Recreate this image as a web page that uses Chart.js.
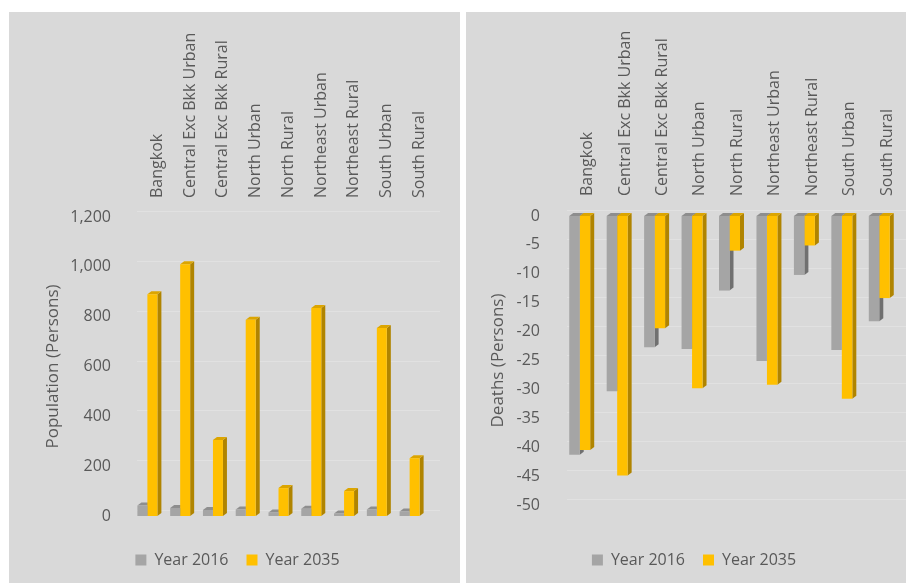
<!DOCTYPE html>
<html>
<head>
<meta charset="utf-8">
<script src="https://cdn.jsdelivr.net/npm/chart.js@4/dist/chart.umd.min.js"></script>
<style>
  html, body { margin: 0; padding: 0; background: #ffffff; width: 906px; height: 583px; overflow: hidden; }
  .panel { position: absolute; background: #d9d9d9; }
  #p1 { left: 9px; top: 12px; width: 451px; height: 571px; }
  #p2 { left: 466px; top: 12px; width: 440px; height: 571px; }
</style>
</head>
<body>
<div class="panel" id="p1"><canvas id="c1" width="451" height="571"></canvas></div>
<div class="panel" id="p2"><canvas id="c2" width="440" height="571"></canvas></div>
<script>
// ---- data ----
const categories = ['Bangkok', 'Central Exc Bkk Urban', 'Central Exc Bkk Rural', 'North Urban', 'North Rural', 'Northeast Urban', 'Northeast Rural', 'South Urban', 'South Rural'];
const seriesNames = ['Year 2016', 'Year 2035'];
const pop2016 = [42, 32, 24, 26, 14, 29, 10, 26, 18];
const pop2035 = [890, 1010, 305, 788, 112, 835, 100, 755, 232];
const deaths2016 = [-41.3, -30.3, -22.7, -23.0, -12.9, -25.1, -10.2, -23.2, -18.2];
const deaths2035 = [-40.5, -44.9, -19.4, -29.8, -6.0, -29.2, -5.1, -31.6, -14.2];
const popTicks = ['0', '200', '400', '600', '800', '1,000', '1,200'];
const deathTicks = ['-50', '-45', '-40', '-35', '-30', '-25', '-20', '-15', '-10', '-5', '0'];
const popTitle = 'Population (Persons)';
const deathTitle = 'Deaths (Persons)';

const TXT = '#595959';
const FONT = 'Open Sans';

// faint back-wall grid lines
const wallGrid = {
  id: 'wallGrid',
  beforeDatasetsDraw(chart) {
    const ctx = chart.ctx, ys = chart.scales.y, a = chart.chartArea;
    ctx.save();
    ctx.strokeStyle = '#e1e1e1';
    ctx.lineWidth = 1;
    ys.ticks.forEach(t => {
      const py = Math.round(ys.getPixelForValue(t.value) - 6) + 0.5;
      ctx.beginPath();
      ctx.moveTo(a.left + 6, py);
      ctx.lineTo(a.right + 14, py);
      ctx.stroke();
    });
    ctx.restore();
  }
};

// 3D side and top faces drawn behind the bar fronts
const bar3d = {
  id: 'bar3d',
  beforeDatasetsDraw(chart) {
    const ctx = chart.ctx, dx = 4, dy = 3;
    ctx.save();
    chart.data.datasets.forEach((ds, di) => {
      const meta = chart.getDatasetMeta(di);
      meta.data.forEach(bar => {
        const p = bar.getProps(['x', 'y', 'base', 'width'], true);
        const l = p.x - p.width / 2, r = p.x + p.width / 2;
        const top = Math.min(p.y, p.base), bot = Math.max(p.y, p.base);
        ctx.fillStyle = ds.sideColor;
        ctx.beginPath();
        ctx.moveTo(r, top); ctx.lineTo(r + dx, top - dy); ctx.lineTo(r + dx, bot - dy); ctx.lineTo(r, bot);
        ctx.closePath(); ctx.fill();
        ctx.fillStyle = ds.topColor;
        ctx.beginPath();
        ctx.moveTo(l, top); ctx.lineTo(l + dx, top - dy); ctx.lineTo(r + dx, top - dy); ctx.lineTo(r, top);
        ctx.closePath(); ctx.fill();
      });
    });
    ctx.restore();
  }
};

function makeChart(id, cfg) {
  return new Chart(document.getElementById(id), {
    type: 'bar',
    data: {
      labels: categories,
      datasets: [
        { label: seriesNames[0], data: cfg.d1, backgroundColor: '#a5a5a5', sideColor: '#707070', topColor: '#8e8e8e', categoryPercentage: cfg.catPct, barPercentage: 1 },
        { label: seriesNames[1], data: cfg.d2, backgroundColor: '#ffc000', sideColor: '#b08400', topColor: '#dca500', categoryPercentage: cfg.catPct, barPercentage: 1 }
      ]
    },
    plugins: [wallGrid, bar3d],
    options: {
      responsive: false,
      animation: false,
      layout: { padding: { left: cfg.padL, right: cfg.padR, top: 0, bottom: 5 } },
      plugins: {
        tooltip: { enabled: false },
        legend: {
          position: 'bottom',
          labels: { boxWidth: 11, boxHeight: 11, padding: 18, color: TXT, font: { family: FONT, size: 16 } }
        }
      },
      scales: {
        x: {
          position: 'top',
          grid: { display: false, drawTicks: false },
          border: { display: false },
          ticks: { minRotation: 90, maxRotation: 90, autoSkip: false, padding: cfg.xPad, labelOffset: cfg.labelOffset, color: TXT, font: { family: FONT, size: 16 } },
          afterFit: s => { s.height = cfg.topH; }
        },
        y: {
          min: cfg.min, max: cfg.max,
          grid: { display: false, drawTicks: false },
          border: { display: false },
          ticks: { stepSize: cfg.step, padding: cfg.tickPad, color: TXT, font: { family: FONT, size: 16 }, callback: (v, i) => cfg.tickLabels[i] },
          title: { display: true, text: cfg.title, color: TXT, font: { family: FONT, size: 17 }, padding: { top: cfg.titlePad, bottom: 0 } },
          afterFit: s => { s.width = cfg.yW; }
        },
        yR: {
          position: 'right',
          grid: { display: false, drawTicks: false },
          border: { display: false },
          ticks: { display: false },
          afterFit: s => { s.width = cfg.yRW; }
        },
        xB: {
          position: 'bottom',
          grid: { display: false, drawTicks: false },
          border: { display: false },
          ticks: { display: false },
          afterFit: s => { s.height = cfg.botH; }
        }
      }
    }
  });
}

makeChart('c1', {
  d1: pop2016, d2: pop2035, min: 0, max: 1200, step: 200, tickLabels: popTicks, title: popTitle,
  catPct: 0.61, padL: 9, padR: 3, yW: 113, yRW: 31, topH: 205, botH: 18, tickPad: 20, titlePad: 24.5, labelOffset: 29, xPad: 19
});
makeChart('c2', {
  d1: deaths2016, d2: deaths2035, min: -50, max: 0, step: 5, tickLabels: deathTicks, title: deathTitle,
  catPct: 0.56, padL: 16, padR: 0, yW: 79, yRW: 8, topH: 204, botH: 29, tickPad: 21, titlePad: 5.8, labelOffset: 27, xPad: 20
});
</script>
</body>
</html>
